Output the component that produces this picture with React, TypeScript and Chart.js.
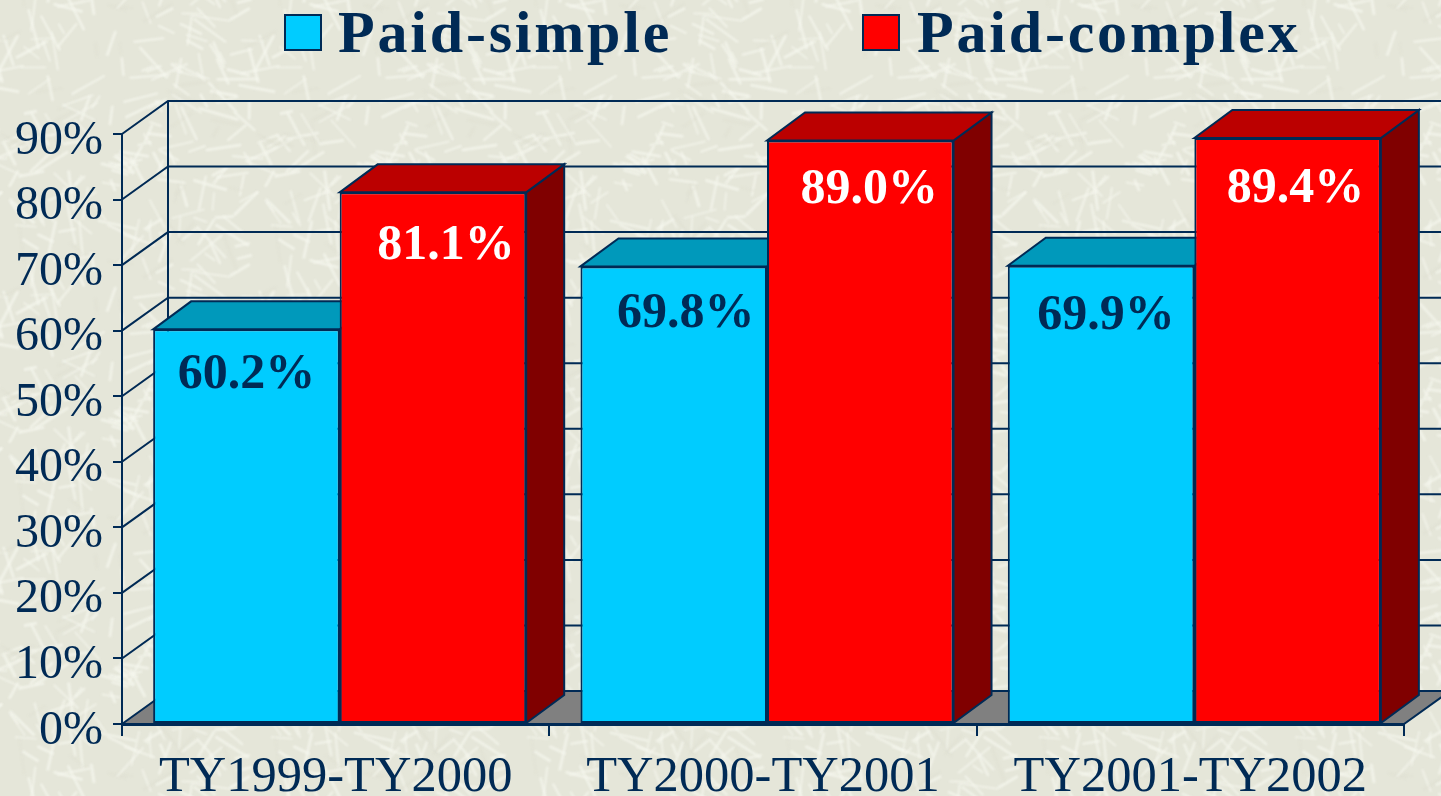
import React, { useEffect, useRef } from "react";
import { Chart, registerables } from "chart.js";

Chart.register(...registerables);

const categories = ["TY1999-TY2000", "TY2000-TY2001", "TY2001-TY2002"];
const paidSimple = [60.2, 69.8, 69.9];
const paidComplex = [81.1, 89.0, 89.4];
const seriesNames = ["Paid-simple", "Paid-complex"];

const NAVY = "#002A55";
const FRONT = ["#00CCFF", "#FF0000"];
const TOP = ["#0099BB", "#BB0000"];
const SIDE = ["#006B85", "#800000"];
const LABEL_COLORS = [NAVY, "#FFFFFF"];
const LABEL_NUDGE = [
  [[0, 46], [12, 48], [5, 50]],
  [[13, 54], [9, 49.5], [8, 51]],
];
const WALL = { dx: 46, dy: 33 };
const BAR_DEPTH = { dx: 38, dy: 28 };
const BAR_SHIFT = 4;
const LEGEND_BOX = [285, 863];
const LEGEND_TEXT = [338, 917];

function makeTexture() {
  const c = document.createElement("canvas");
  c.width = 256;
  c.height = 256;
  const g = c.getContext("2d")!;
  g.fillStyle = "#E5E6D9";
  g.fillRect(0, 0, 256, 256);
  let s = 12345;
  const next = () => {
    s = (s * 1103515245 + 12345) & 0x7fffffff;
    return s / 0x7fffffff;
  };
  g.filter = "blur(0.8px)";
  for (let i = 0; i < 210; i++) {
    const x = next() * 256;
    const y = next() * 256;
    const a = next() * Math.PI * 2;
    const l = 12 + next() * 30;
    g.strokeStyle = next() > 0.15 ? "rgba(245,246,238,0.8)" : "rgba(220,221,207,0.35)";
    g.lineWidth = 1.5 + next() * 1.5;
    for (const ox of [-256, 0, 256]) {
      for (const oy of [-256, 0, 256]) {
        g.beginPath();
        g.moveTo(x + ox, y + oy);
        g.lineTo(x + ox + Math.cos(a) * l, y + oy + Math.sin(a) * l);
        g.stroke();
      }
    }
  }
  return c;
}

function poly(ctx: CanvasRenderingContext2D, pts: number[][], fill: string | null) {
  ctx.beginPath();
  pts.forEach((p, i) => (i ? ctx.lineTo(p[0], p[1]) : ctx.moveTo(p[0], p[1])));
  ctx.closePath();
  if (fill) {
    ctx.fillStyle = fill;
    ctx.fill();
  }
  ctx.stroke();
}

const scene3d = {
  id: "scene3d",
  beforeDraw(chart: any) {
    const { ctx, width, height } = chart;
    ctx.save();
    ctx.fillStyle = ctx.createPattern(makeTexture(), "repeat");
    ctx.fillRect(0, 0, width, height);
    ctx.restore();

    ctx.save();
    ctx.strokeStyle = NAVY;
    ctx.lineWidth = 2;
    const { left, right, bottom } = chart.chartArea;
    const y = chart.scales.y;
    // floor
    poly(ctx, [[left, bottom], [left + WALL.dx, bottom - WALL.dy], [right + WALL.dx, bottom - WALL.dy], [right, bottom]], "#808080");
    // walls
    for (const t of y.ticks) {
      const py = y.getPixelForValue(t.value);
      if (t.value === 0) continue;
      ctx.beginPath();
      ctx.moveTo(left, py);
      ctx.lineTo(left + WALL.dx, py - WALL.dy);
      ctx.lineTo(width + 2, py - WALL.dy);
      ctx.stroke();
    }
    ctx.beginPath();
    ctx.moveTo(left + WALL.dx, y.getPixelForValue(y.max) - WALL.dy);
    ctx.lineTo(left + WALL.dx, bottom - WALL.dy);
    ctx.stroke();
    ctx.restore();

    // legend
    ctx.save();
    seriesNames.forEach((name, i) => {
      ctx.fillStyle = FRONT[i];
      ctx.strokeStyle = NAVY;
      ctx.lineWidth = 2;
      ctx.fillRect(LEGEND_BOX[i], 15, 36, 35);
      ctx.strokeRect(LEGEND_BOX[i], 15, 36, 35);
      ctx.fillStyle = NAVY;
      ctx.font = "bold 60px 'Liberation Serif'";
      (ctx as any).letterSpacing = "2.8px";
      ctx.textBaseline = "alphabetic";
      ctx.textAlign = "left";
      ctx.fillText(name, LEGEND_TEXT[i], 52);
    });
    ctx.restore();
  },
  beforeDatasetsDraw(chart: any) {
    const { ctx } = chart;
    ctx.save();
    ctx.strokeStyle = NAVY;
    ctx.lineWidth = 2;
    chart.data.datasets.forEach((_: any, d: number) => {
      chart.getDatasetMeta(d).data.forEach((bar: any) => {
        const p = bar.getProps(["x", "y", "base", "width"], true);
        const l = p.x - p.width / 2 + BAR_SHIFT;
        const r = p.x + p.width / 2 + BAR_SHIFT;
        const { dx, dy } = BAR_DEPTH;
        poly(ctx, [[r, p.y], [r + dx, p.y - dy], [r + dx, p.base - dy], [r, p.base]], SIDE[d]);
        poly(ctx, [[l, p.y], [l + dx, p.y - dy], [r + dx, p.y - dy], [r, p.y]], TOP[d]);
      });
    });
    ctx.restore();
    ctx.save();
    ctx.translate(BAR_SHIFT, 0);
  },
  afterDatasetsDraw(chart: any) {
    const { ctx } = chart;
    ctx.restore();
    ctx.save();
    ctx.font = "bold 50px 'Liberation Serif'";
    ctx.textAlign = "center";
    ctx.textBaseline = "middle";
    chart.data.datasets.forEach((ds: any, d: number) => {
      chart.getDatasetMeta(d).data.forEach((bar: any, i: number) => {
        const p = bar.getProps(["x", "y"], true);
        ctx.fillStyle = LABEL_COLORS[d];
        ctx.fillText(
          ds.data[i].toFixed(1) + "%",
          p.x + BAR_SHIFT + LABEL_NUDGE[d][i][0],
          p.y + LABEL_NUDGE[d][i][1]
        );
      });
    });
    ctx.restore();
  },
};

export default function App() {
  const ref = useRef<HTMLCanvasElement>(null);
  useEffect(() => {
    document.body.style.margin = "0";
    const chart = new Chart(ref.current!, {
      type: "bar",
      plugins: [scene3d],
      data: {
        labels: categories,
        datasets: [
          { label: seriesNames[0], data: paidSimple, backgroundColor: FRONT[0] },
          { label: seriesNames[1], data: paidComplex, backgroundColor: FRONT[1] },
        ].map((d) => ({
          ...d,
          borderColor: NAVY,
          borderWidth: 2,
          borderSkipped: false,
          barPercentage: 1,
          categoryPercentage: 0.873,
          clip: false,
        })) as any,
      },
      options: {
        responsive: false,
        animation: false,
        layout: { padding: { top: 134, right: 37, left: 0, bottom: 0 } },
        plugins: { legend: { display: false }, tooltip: { enabled: false } },
        scales: {
          x: {
            afterFit: (s: any) => { s.height = 72; },
            grid: { drawOnChartArea: false, color: NAVY, lineWidth: 2, tickLength: 12 },
            border: { color: NAVY, width: 3, z: 1 },
            ticks: {
              color: NAVY,
              font: { family: "'Liberation Serif'", size: 50.5 },
              padding: 11,
              maxRotation: 0,
              autoSkip: false,
            },
          },
          y: {
            min: 0,
            max: 90,
            afterFit: (s: any) => { s.width = 122; },
            grid: { drawOnChartArea: false, color: NAVY, lineWidth: 2, tickLength: 9 },
            border: { color: NAVY, width: 2 },
            ticks: {
              stepSize: 10,
              color: NAVY,
              font: { family: "'Liberation Serif'", size: 48 },
              padding: 10,
              labelOffset: 7,
              callback: (v: any) => v + "%",
            },
          },
        },
      },
    } as any);
    return () => chart.destroy();
  }, []);
  return <canvas ref={ref} width={1441} height={796} style={{ display: "block" }} />;
}
